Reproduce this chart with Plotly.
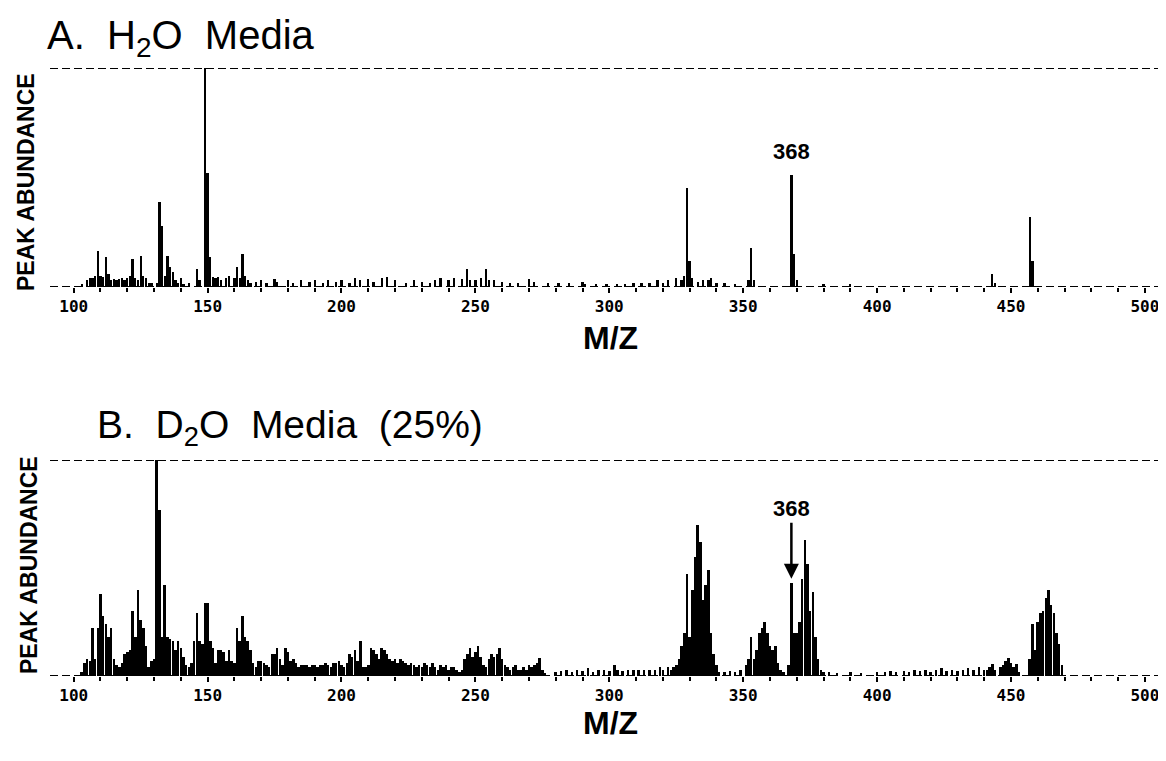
import plotly.graph_objects as go
from plotly.subplots import make_subplots

# ---------------- data ----------------
# Panel A: H2O media  (m/z, relative abundance %)
a_mz = [103, 105, 106, 107, 108, 109, 110, 111, 112, 113, 114, 115, 116, 117, 118, 119, 120,
        121, 122, 123, 124, 125, 126, 127, 128, 129, 131, 132, 133, 134, 135, 136, 137, 138,
        139, 140, 141, 143, 146, 147, 149, 150, 151, 152, 153, 154, 155, 157, 158, 160, 161,
        162, 163, 164, 165, 166, 168, 170, 172, 175, 176, 180, 182, 185, 188, 190, 193, 195,
        198, 200, 203, 205, 207, 210, 212, 215, 217, 220, 224, 227, 230, 233, 235, 237, 240,
        242, 245, 247, 248, 250, 252, 254, 255, 257, 260, 263, 266, 270, 272, 277, 281, 285,
        290, 291, 295, 299, 303, 306, 309, 312, 315, 318, 320, 322, 325, 327, 328, 329, 330,
        331, 333, 335, 337, 338, 340, 343, 347, 352, 353, 354, 368, 369, 370, 380, 390, 443,
        444, 457, 458]
a_ab = [1.5, 3, 4, 4, 5, 16.5, 5, 4.5, 13.5, 6, 3, 3.5, 3, 3.5, 4, 3, 4,
        5, 13, 4, 3, 14, 5, 4, 2, 2, 2, 39, 28, 5, 14, 9, 7, 3,
        2, 4, 1.5, 2, 8, 3, 100, 52, 13.5, 4.5, 4, 4.5, 3, 4, 5, 4, 9,
        4, 15, 5, 3, 2, 2.5, 3, 2, 3.5, 2.5, 3, 2, 3, 2.5, 3, 2, 3,
        2.5, 3, 2, 4, 3, 3.5, 2.5, 4, 4.5, 3, 2, 3, 2.5, 2, 3, 4, 3,
        4, 3.5, 8, 3, 3, 4, 8, 3, 3, 2.5, 2, 2, 3.5, 2.5, 2, 2, 2,
        2.5, 1.5, 1.5, 1.5, 1.5, 1.5, 2, 2, 2, 3, 2, 3, 4, 3, 5, 45, 12,
        4, 2.5, 3, 3, 4, 2, 2, 1.5, 3, 18, 3, 51, 15, 3, 1.5, 1.5, 6,
        2, 32, 12]

# Panel B: D2O media (25 %)
b_mz = [103, 104, 105, 106, 107, 108, 109, 110, 111, 112, 113, 114, 115, 116, 117, 118, 119,
        120, 121, 122, 123, 124, 125, 126, 127, 128, 129, 130, 131, 132, 133, 134, 135, 136,
        137, 138, 139, 140, 141, 142, 143, 144, 145, 146, 147, 148, 149, 150, 151, 152, 153,
        154, 155, 156, 157, 158, 159, 160, 161, 162, 163, 164, 165, 166, 167, 168, 169, 170,
        171, 172, 173, 174, 175, 176, 177, 178, 179, 180, 181, 182, 183, 184, 185, 186, 187,
        188, 189, 190, 191, 192, 193, 194, 195, 196, 197, 198, 199, 200, 201, 202, 203, 204,
        205, 206, 207, 208, 209, 210, 211, 212, 213, 214, 215, 216, 217, 218, 219, 220, 221,
        222, 223, 224, 225, 226, 227, 228, 229, 230, 231, 232, 233, 234, 235, 236, 237, 238,
        239, 240, 241, 242, 243, 244, 245, 246, 247, 248, 249, 250, 251, 252, 253, 254, 255,
        256, 257, 258, 259, 260, 261, 262, 263, 264, 265, 266, 267, 268, 269, 270, 271, 272,
        273, 274, 275, 276, 280, 282, 284, 286, 288, 290, 292, 294, 296, 298, 300, 302, 303,
        305, 307, 309, 311, 313, 315, 317, 319, 320, 322, 323, 324, 325, 326, 327, 328, 329,
        330, 331, 332, 333, 334, 335, 336, 337, 338, 339, 340, 341, 343, 345, 347, 349, 351,
        352, 353, 354, 355, 356, 357, 358, 359, 360, 361, 362, 363, 364, 365, 367, 368, 369,
        370, 371, 372, 373, 374, 375, 376, 377, 378, 379, 380, 382, 385, 390, 394, 400, 403,
        405, 407, 410, 412, 414, 416, 418, 420, 422, 424, 426, 428, 430, 432, 434, 436, 438,
        440, 441, 442, 443, 444, 446, 447, 448, 449, 450, 451, 452, 453, 457, 458, 459, 460,
        461, 462, 463, 464, 465, 466, 467, 468, 469]
b_ab = [2, 6, 8, 7, 22, 8, 22, 38, 28, 24, 18, 22, 8, 5, 4, 6, 10,
        11, 12, 30, 18, 40, 26, 22, 14, 4, 7, 8, 100, 77, 18, 42, 18, 17,
        16, 12, 16, 13, 9, 5, 4, 6, 16, 29, 16, 15, 34, 34, 16, 13, 6,
        12, 12, 11, 7, 12, 7, 6, 22, 16, 28, 18, 16, 12, 6, 4, 7, 7,
        6, 5, 4, 10, 10, 13, 8, 5, 13, 11, 7, 8, 6, 4, 5, 5, 5,
        4, 5, 5, 4, 5, 5, 6, 5, 4, 6, 6, 7, 5, 4, 6, 10, 9,
        12, 7, 16, 4, 4, 5, 13, 12, 10, 8, 13, 12, 10, 8, 7, 8, 6,
        8, 7, 6, 5, 6, 5, 4, 5, 4, 6, 5, 4, 6, 4, 3, 5, 4,
        5, 3, 4, 4, 3, 2, 3, 8, 10, 13, 9, 11, 14, 9, 5, 4, 8,
        10, 9, 10, 13, 8, 5, 4, 3, 4, 5, 3, 3, 4, 3, 5, 4, 5,
        6, 8.5, 3, 1.5, 2, 2.5, 3, 2, 3, 2.5, 3.5, 2, 3, 3, 2.5, 5, 3,
        2.5, 3, 3, 3, 3, 3, 3, 4, 3, 4, 3, 4, 5, 8, 14, 20, 47,
        18, 40, 55, 70, 62, 35, 42, 49, 20, 10, 5, 2, 2, 2.5, 2, 3, 5,
        8, 18, 8, 12, 20, 22, 25, 20, 14, 12, 14, 6, 3, 2, 5, 43, 20,
        20, 25, 45, 63, 52, 30, 39, 18, 8, 3, 2, 2, 1.5, 2, 1.5, 2, 2,
        2.5, 2, 2.5, 2, 3, 2.5, 3, 2, 3, 3.5, 2.5, 3, 2.5, 3, 3.5, 3, 4,
        3, 3, 4, 5.5, 3, 4, 5, 7, 8.5, 6, 4, 5.5, 2, 8, 24, 12, 25,
        29, 30, 36, 40, 33, 29, 20, 15, 5]

tick_vals = [100, 150, 200, 250, 300, 350, 400, 450, 500]
tick_text = ["100", "150", "200", "250", "300", "350", "400", "450", "500"]

# ---------------- figure ----------------
OFF = 8                      # page body margin offset
W, H = 1166 - OFF, 761 - OFF
ML = 50 - OFF                # plot area starts at page x = 50
MR = W - (1160 - OFF)        # plot area ends at page x = 1160
PW = W - ML - MR

def py(px):          # page pixel row -> paper y
    return 1 - (px - OFF) / H

def pxx(px):         # page pixel column -> paper x
    return (px - OFF - ML) / PW

fig = make_subplots(rows=2, cols=1)

fig.add_trace(go.Bar(x=a_mz, y=a_ab, width=0.85, marker=dict(color="black", line=dict(width=0)),
                     showlegend=False), row=1, col=1)
fig.add_trace(go.Bar(x=b_mz, y=b_ab, width=0.95, marker=dict(color="black", line=dict(width=0)),
                     showlegend=False), row=2, col=1)

xcommon = dict(range=[91.15, 505.65], tickmode="array", tickvals=tick_vals, ticktext=tick_text,
               ticks="outside", ticklen=5, tickwidth=2, tickcolor="black", automargin=False,
               minor=dict(tickmode="linear", tick0=100, dtick=10, ticks="outside", ticklen=4,
                          tickwidth=2, tickcolor="black"),
               showline=False, showgrid=False, zeroline=False,
               tickfont=dict(family="DejaVu Sans Mono", size=16, color="black", weight="bold"))
ycommon = dict(range=[0, 100], visible=False, showgrid=False, zeroline=False, automargin=False)

fig.update_layout(
    width=W, height=H, margin=dict(l=ML, r=MR, t=0, b=0, autoexpand=False),
    paper_bgcolor="white", plot_bgcolor="white", bargap=0,
    xaxis=dict(domain=[0, 1], **xcommon),
    yaxis=dict(domain=[py(287), py(68)], **ycommon),
    xaxis2=dict(domain=[0, 1], **xcommon),
    yaxis2=dict(domain=[py(676), py(460)], **ycommon),
)

dash_line = dict(color="black", width=2, dash="8px,4px")
for xr, yr in (("x", "y"), ("x2", "y2")):
    for yv in (0, 100):
        fig.add_shape(type="line", xref=f"{xr} domain", x0=0, x1=1, yref=yr, y0=yv, y1=yv,
                      line=dash_line, layer="below")

title_font = dict(family="Liberation Sans", size=40, color="black")
fig.add_annotation(text="A.  H<sub>2</sub>O  Media", xref="paper", yref="paper",
                   x=pxx(45), y=py(38), xanchor="left", yanchor="middle",
                   showarrow=False, font=title_font)
fig.add_annotation(text="B.  D<sub>2</sub>O  Media  (25%)", xref="paper", yref="paper",
                   x=pxx(95), y=py(428), xanchor="left", yanchor="middle",
                   showarrow=False, font=dict(family="Liberation Sans", size=39, color="black"))

ylab_font = dict(family="Liberation Sans", size=23, color="black")
fig.add_annotation(text="<b>PEAK ABUNDANCE</b>", xref="paper", yref="paper",
                   x=pxx(26), y=py(182), xanchor="center", yanchor="middle",
                   textangle=-90, showarrow=False, font=ylab_font)
fig.add_annotation(text="<b>PEAK ABUNDANCE</b>", xref="paper", yref="paper",
                   x=pxx(29), y=py(565), xanchor="center", yanchor="middle",
                   textangle=-90, showarrow=False, font=ylab_font)

mz_font = dict(family="Liberation Sans", size=32, color="black")
fig.add_annotation(text="<b>M/Z</b>", xref="paper", yref="paper", x=pxx(610), y=py(338),
                   xanchor="center", yanchor="middle", showarrow=False, font=mz_font)
fig.add_annotation(text="<b>M/Z</b>", xref="paper", yref="paper", x=pxx(610), y=py(723),
                   xanchor="center", yanchor="middle", showarrow=False, font=mz_font)

lab_font = dict(family="Liberation Sans", size=22, color="black")
fig.add_annotation(text="<b>368</b>", x=368, y=62, xref="x", yref="y", showarrow=False,
                   xanchor="center", yanchor="middle", font=lab_font)
fig.add_annotation(text="<b>368</b>", x=368, y=45, xref="x2", yref="y2", showarrow=True,
                   ax=0, ay=-70, arrowhead=2, arrowsize=1.2, arrowwidth=2.5, arrowcolor="black",
                   font=lab_font)

fig.write_html("out.html")
